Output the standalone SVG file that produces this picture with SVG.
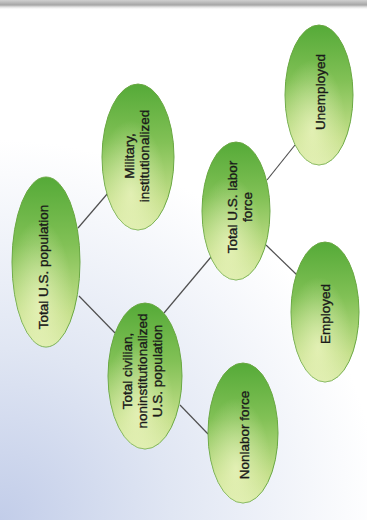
<svg xmlns="http://www.w3.org/2000/svg" width="367" height="520" viewBox="0 0 367 520">
  <defs>
    <radialGradient id="bg" cx="0" cy="520" r="380" gradientUnits="userSpaceOnUse">
      <stop offset="0" stop-color="#c2cde9"/>
      <stop offset="0.45" stop-color="#e0e6f3"/>
      <stop offset="1" stop-color="#ffffff"/>
    </radialGradient>
    <linearGradient id="topband" x1="0" y1="0" x2="0" y2="1">
      <stop offset="0" stop-color="#d0d0d0"/>
      <stop offset="0.5" stop-color="#a5a5a5"/>
      <stop offset="1" stop-color="#ffffff" stop-opacity="0"/>
    </linearGradient>
    <linearGradient id="nodeFill" x1="0" y1="0" x2="0" y2="1">
      <stop offset="0" stop-color="#55aa38"/>
      <stop offset="0.4" stop-color="#82c156"/>
      <stop offset="0.8" stop-color="#c4df8a"/>
      <stop offset="1" stop-color="#d8eaa6"/>
    </linearGradient>
    <radialGradient id="nodeGlow" cx="0.4" cy="0.75" r="0.5">
      <stop offset="0" stop-color="#f2f8c8" stop-opacity="0.7"/>
      <stop offset="1" stop-color="#f2f8c8" stop-opacity="0"/>
    </radialGradient>
  </defs>
  <style>
    .node ellipse.base { fill: url(#nodeFill); stroke: #6aa843; stroke-width: 1; }
    .node ellipse.glow { fill: url(#nodeGlow); stroke: none; }
    .node text { font-family: "Liberation Sans", Arial, sans-serif; font-size: 13.5px; fill: #1a1a1a; stroke: #1a1a1a; stroke-width: 0.35; text-anchor: middle; dominant-baseline: central; }
    .edges line { stroke: #505050; stroke-width: 1.2; }
  </style>

  <rect x="0" y="0" width="367" height="520" fill="url(#bg)"/>
  <rect x="0" y="0" width="367" height="10" fill="url(#topband)"/>

  <g class="edges" id="connectors">
    <line x1="78" y1="228" x2="108" y2="193"/>
    <line x1="79" y1="296" x2="115" y2="333"/>
    <line x1="164" y1="313" x2="211" y2="257"/>
    <line x1="180" y1="405" x2="208" y2="434"/>
    <line x1="267" y1="180" x2="295" y2="145"/>
    <line x1="266" y1="245" x2="297" y2="275"/>
  </g>

  <g class="node" id="total-pop">
    <ellipse class="base" cx="46" cy="262" rx="34" ry="85"/>
    <ellipse class="glow" cx="46" cy="262" rx="34" ry="85"/>
    <text transform="translate(43,267) rotate(-90)">Total U.S. population</text>
  </g>

  <g class="node" id="military">
    <ellipse class="base" cx="138" cy="157" rx="36" ry="73"/>
    <ellipse class="glow" cx="138" cy="157" rx="36" ry="73"/>
    <text transform="translate(136,156) rotate(-90)"><tspan x="0" dy="-7.5">Military,</tspan><tspan x="0" dy="15">institutionalized</tspan></text>
  </g>

  <g class="node" id="labor-force">
    <ellipse class="base" cx="236" cy="211" rx="34" ry="69"/>
    <ellipse class="glow" cx="236" cy="211" rx="34" ry="69"/>
    <text transform="translate(239,207) rotate(-90)"><tspan x="0" dy="-7.5">Total U.S. labor</tspan><tspan x="0" dy="15">force</tspan></text>
  </g>

  <g class="node" id="unemployed">
    <ellipse class="base" cx="319" cy="95" rx="34" ry="70"/>
    <ellipse class="glow" cx="319" cy="95" rx="34" ry="70"/>
    <text transform="translate(320,92) rotate(-90)">Unemployed</text>
  </g>

  <g class="node" id="civilian">
    <ellipse class="base" cx="145" cy="376" rx="37" ry="73"/>
    <ellipse class="glow" cx="145" cy="376" rx="37" ry="73"/>
    <text transform="translate(142,371) rotate(-90)"><tspan x="0" dy="-15">Total civilian,</tspan><tspan x="0" dy="15">noninstitutionalized</tspan><tspan x="0" dy="15">U.S. population</tspan></text>
  </g>

  <g class="node" id="employed">
    <ellipse class="base" cx="325" cy="312" rx="34" ry="70"/>
    <ellipse class="glow" cx="325" cy="312" rx="34" ry="70"/>
    <text transform="translate(325,314) rotate(-90)">Employed</text>
  </g>

  <g class="node" id="nonlabor">
    <ellipse class="base" cx="243" cy="433" rx="35" ry="70"/>
    <ellipse class="glow" cx="243" cy="433" rx="35" ry="70"/>
    <text transform="translate(244,435) rotate(-90)">Nonlabor force</text>
  </g>
</svg>
